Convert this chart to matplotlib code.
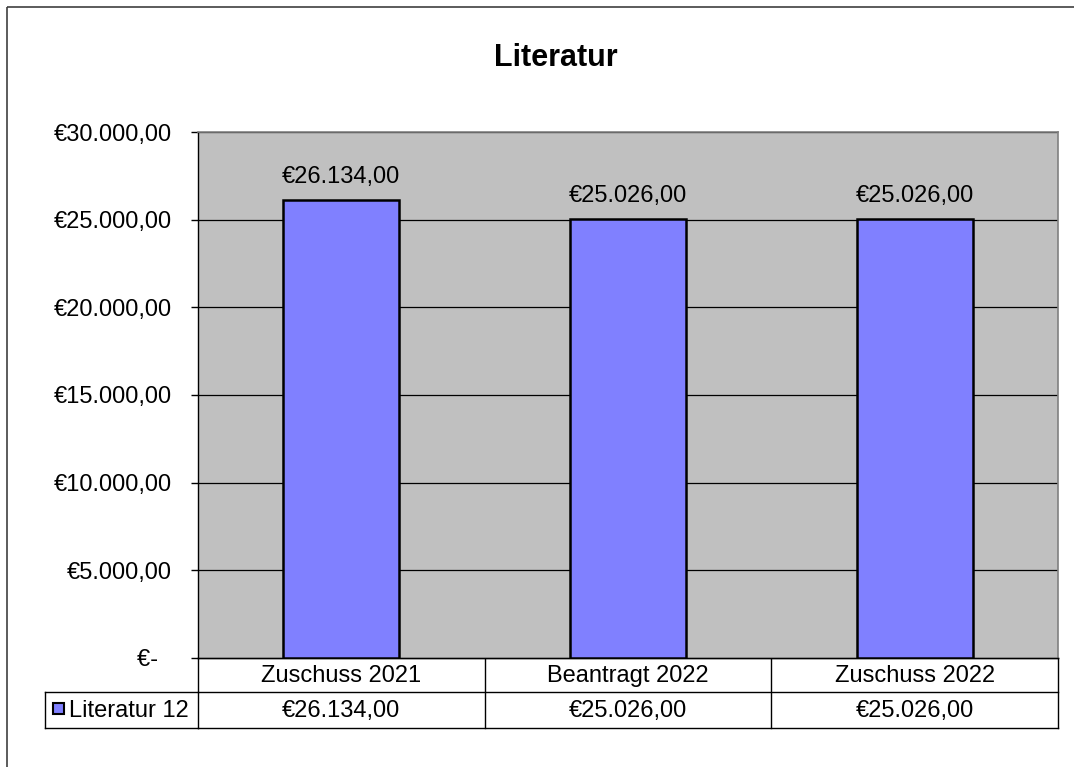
import matplotlib
matplotlib.use("Agg")
import matplotlib.pyplot as plt
from matplotlib.transforms import blended_transform_factory
from matplotlib.patches import Rectangle

plt.rcParams['font.family'] = ['Liberation Sans', 'DejaVu Sans']

title = "Literatur"
series_name = "Literatur 12"
categories = ["Zuschuss 2021", "Beantragt 2022", "Zuschuss 2022"]
values = [26134.00, 25026.00, 25026.00]
yticks = [0, 5000, 10000, 15000, 20000, 25000, 30000]


def euro(v):
    if v == 0:
        return "€-  "
    s = f"{v:,.2f}"
    s = s.replace(",", "X").replace(".", ",").replace("X", ".")
    return "€" + s


W, H = 1074, 767
FS = 17
fig = plt.figure(figsize=(W / 100, H / 100), dpi=100)
fig.patch.set_facecolor("white")

L, R, T, B = 198, 1058, 132, 658
ax = fig.add_axes([L / W, 1 - B / H, (R - L) / W, (B - T) / H])
ax.set_facecolor("#C0C0C0")
x = list(range(len(categories)))
ax.bar(x, values, width=0.405, color="#8080FF", edgecolor="black", linewidth=1.8, zorder=3)
ax.set_xlim(-0.5, len(categories) - 0.5)
ax.set_ylim(0, 30000)
ax.set_yticks(yticks)
ax.set_yticklabels([euro(v) for v in yticks], fontsize=FS)
ax.tick_params(axis="y", length=5, width=1, pad=14, color="black")
ax.set_xticks([])
ax.grid(axis="y", color="black", linewidth=0.9, zorder=1)
ax.set_axisbelow(True)
for s in ["top", "right"]:
    ax.spines[s].set_color("#808080")
    ax.spines[s].set_linewidth(1.2)
for s in ["left", "bottom"]:
    ax.spines[s].set_color("black")
    ax.spines[s].set_linewidth(1.0)

for xi, v in zip(x, values):
    ax.annotate(euro(v), (xi, v), xytext=(0, 12), textcoords="offset pixels",
                ha="center", va="bottom", fontsize=FS, zorder=4)

# overlay for title, table, frame (pixel coordinates)
ov = fig.add_axes([0, 0, 1, 1], zorder=-1)
ov.set_xlim(0, W)
ov.set_ylim(H, 0)
ov.axis("off")
ov.add_patch(Rectangle((7, 7), W + 20, H + 20, fill=False, edgecolor="#404040", linewidth=1.2))
ov.text(556, 66, title, ha="center", va="baseline", fontsize=22, fontweight="bold")

# data table
tr = blended_transform_factory(ax.transData, ov.transData)
r1, r2, r3 = B, 692, 728
lw = 1.0
edges = [i - 0.5 for i in range(len(categories) + 1)]
for e in edges:
    ov.plot([e, e], [r1, r3], transform=tr, color="black", linewidth=lw, clip_on=False)
for r in (r1, r2, r3):
    ov.plot([-0.5, len(categories) - 0.5], [r, r], transform=tr, color="black", linewidth=lw, clip_on=False)
# legend cell
ov.plot([45, L], [r2, r2], color="black", linewidth=lw)
ov.plot([45, L], [r3, r3], color="black", linewidth=lw)
ov.plot([45, 45], [r2, r3], color="black", linewidth=lw)
ov.add_patch(Rectangle((53, 703), 11, 11, facecolor="#8080FF", edgecolor="black", linewidth=1.5))
ov.text(69, 717, series_name, ha="left", va="baseline", fontsize=FS)

for xi, c, v in zip(x, categories, values):
    ov.text(xi, 682, c, transform=tr, ha="center", va="baseline", fontsize=FS)
    ov.text(xi, 717, euro(v), transform=tr, ha="center", va="baseline", fontsize=FS)

fig.savefig("out.png", dpi=100)
